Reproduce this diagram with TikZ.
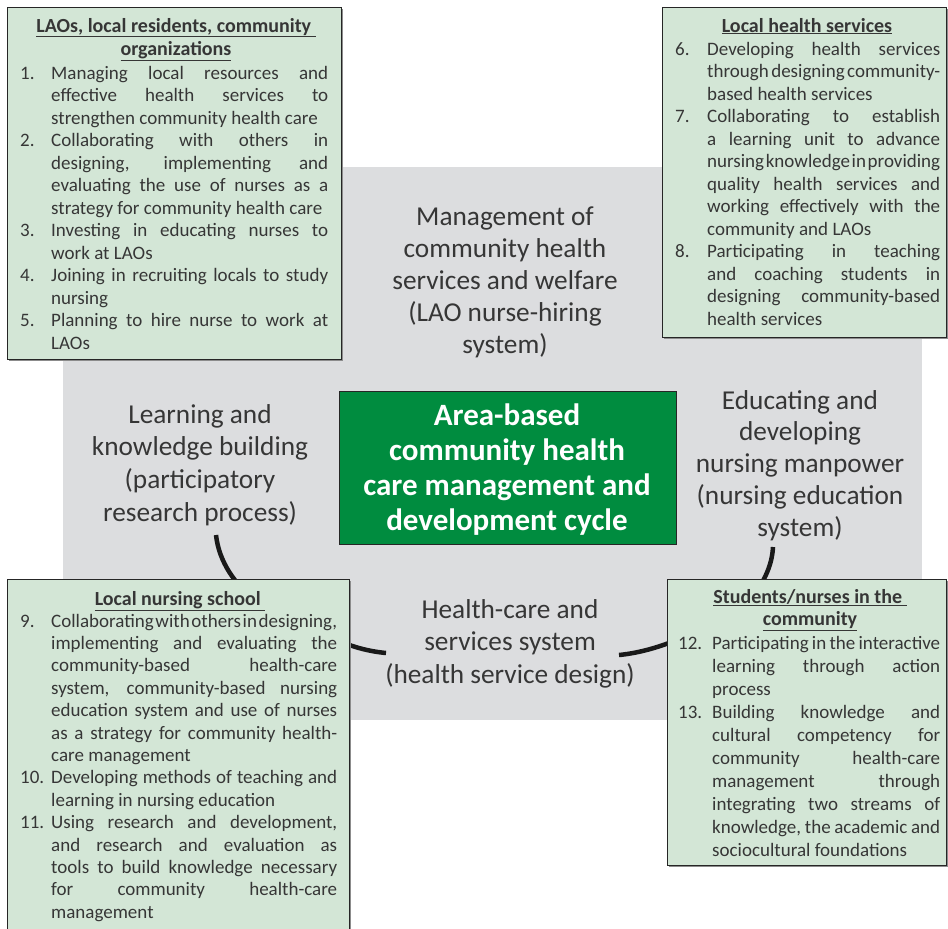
\documentclass[tikz,border=0pt]{standalone}
\usepackage{fontspec}
\setmainfont{Carlito}
\usetikzlibrary{shadows}
\definecolor{bggray}{HTML}{DCDDDF}
\definecolor{boxgreen}{HTML}{D3E6D6}
\definecolor{darkgreen}{HTML}{008C3F}
\definecolor{txt}{HTML}{363636}
\definecolor{edge}{HTML}{262626}
\definecolor{shade}{HTML}{8C8C8C}
\newlength{\numw}
\newcommand{\itm}[2]{\par\hangindent=\numw\hangafter=1\noindent\hbox to\numw{#1\hfil}#2}
\newcommand{\listblock}[4]{\vtop{\hsize=#1pt\numw=#2pt\fontsize{19}{#3}\selectfont\parindent=0pt\hyphenpenalty=10000\tolerance=10000\spaceskip=.23em plus 1em minus .22em\xspaceskip=\spaceskip #4}}
\newcommand{\centerblock}[4]{\vtop{\hsize=#1pt\fontsize{#2}{#3}\selectfont\centering #4}}
\tikzset{
  infobox/.style={draw=edge, line width=1.2pt, fill=boxgreen, inner sep=0, anchor=north west,
    drop shadow={shadow xshift=1.6pt, shadow yshift=-1.6pt, fill=shade, opacity=1}},
  txtnode/.style={inner sep=0, text=txt},
  arcline/.style={line width=4.5pt, draw=black!90},
}
\begin{document}
\begin{tikzpicture}[x=1pt,y=-1pt]
\useasboundingbox (0,0) rectangle (948,929);
% background panel
\node[fill=bggray, inner sep=0, minimum width=859, minimum height=553, anchor=north west] (bg) at (63,167) {};
% cycle arcs
\coordinate (a1s) at (216,535); \coordinate (a1e) at (258,603);
\coordinate (a2s) at (325,634); \coordinate (a2e) at (386,653);
\coordinate (a3s) at (619,655); \coordinate (a3e) at (690,634);
\coordinate (a4s) at (773,547); \coordinate (a4e) at (752,598);
\draw[arcline] (a1s) .. controls (219,562) and (235,585) .. (a1e);
\draw[arcline] (a2s) .. controls (345,645) and (365,651) .. (a2e);
\draw[arcline] (a3s) .. controls (640,653) and (665,646) .. (a3e);
\draw[arcline] (a4s) .. controls (772,565) and (765,580) .. (a4e);
% centre box
\node[fill=darkgreen, draw=edge, line width=1pt, inner sep=0, minimum width=337, minimum height=153, anchor=north west] (core) at (339,391) {};
\node[inner sep=0, text=white, anchor=base] (coret) at (507,425)
  {\centerblock{335}{31}{35}{\bfseries Area-based\\community health\\care management and\\development cycle}};
% cycle labels
\node[txtnode, anchor=base] (mgmt) at (505,225)
  {\centerblock{300}{27.3}{32}{Management of\\community health\\services and welfare\\(LAO nurse-hiring\\system)}};
\node[txtnode, anchor=base] (learn) at (200,423)
  {\centerblock{260}{27.3}{32.7}{Learning and\\knowledge building\\(participatory\\research process)}};
\node[txtnode, anchor=base] (educ) at (800,409)
  {\centerblock{260}{27.3}{31.8}{Educating and\\developing\\nursing manpower\\(nursing education\\system)}};
\node[txtnode, anchor=base] (hcs) at (510,618)
  {\centerblock{300}{27.3}{32.5}{Health-care and\\services system\\(health service design)}};
% top-left box
\node[infobox, minimum width=334, minimum height=352] (tl) at (7,7) {};
\node[txtnode, anchor=base] (tlh) at (176,32)
  {\centerblock{330}{20}{23}{\bfseries\underline{LAOs, local residents, community\ }\\\underline{organizations}}};
\node[txtnode, anchor=base west] (tlt) at (20,79) {\listblock{308}{31}{22.5}{%
\itm{1.}{Managing local resources and\linebreak effective health services to\linebreak strengthen community health care}%
\itm{2.}{Collaborating with others in\linebreak designing, implementing and\linebreak evaluating the use of nurses as a\linebreak strategy for community health care}%
\itm{3.}{Investing in educating nurses to\linebreak work at LAOs}%
\itm{4.}{Joining in recruiting locals to study\linebreak nursing}%
\itm{5.}{Planning to hire nurse to work at\linebreak LAOs}}};
% top-right box
\node[infobox, minimum width=284, minimum height=330] (tr) at (662,7) {};
\node[txtnode, anchor=base] (trh) at (807,32)
  {\centerblock{280}{20}{23}{\bfseries\underline{Local health services}}};
\node[txtnode, anchor=base west] (trt) at (675,55) {\listblock{265}{32}{22.5}{%
\itm{6.}{Developing health services\linebreak through designing community-\linebreak based health services}%
\itm{7.}{Collaborating to establish\linebreak a learning unit to advance\linebreak nursing knowledge in providing\linebreak quality health services and\linebreak working effectively with the\linebreak community and LAOs}%
\itm{8.}{Participating in teaching\linebreak and coaching students in\linebreak designing community-based\linebreak health services}}};
% bottom-left box
\node[infobox, minimum width=342, minimum height=360] (bl) at (7,579) {};
\node[txtnode, anchor=base] (blh) at (180,605)
  {\centerblock{330}{20}{23}{\bfseries\underline{Local nursing school\ }}};
\node[txtnode, anchor=base west] (blt) at (20,627) {\listblock{317}{31}{22.4}{%
\itm{9.}{Collaborating with others in designing,\linebreak implementing and evaluating the\linebreak community-based health-care\linebreak system, community-based nursing\linebreak education system and use of nurses\linebreak as a strategy for community health-\linebreak care management}%
\itm{10.}{Developing methods of teaching and\linebreak learning in nursing education}%
\itm{11.}{Using research and development,\linebreak and research and evaluation as\linebreak tools to build knowledge necessary\linebreak for community health-care\linebreak management}}};
% bottom-right box
\node[infobox, minimum width=279, minimum height=286] (br) at (667,579) {};
\node[txtnode, anchor=base] (brh) at (810,603)
  {\centerblock{275}{20}{22.5}{\bfseries\underline{Students/nurses in the\ }\\\underline{community}}};
\node[txtnode, anchor=base west] (brt) at (678,649) {\listblock{262}{34}{23}{%
\itm{12.}{Participating in the interactive\linebreak learning through action\linebreak process}%
\itm{13.}{Building knowledge and\linebreak cultural competency for\linebreak community health-care\linebreak management through\linebreak integrating two streams of\linebreak knowledge, the academic and\linebreak sociocultural foundations}}};
\end{tikzpicture}
\end{document}
